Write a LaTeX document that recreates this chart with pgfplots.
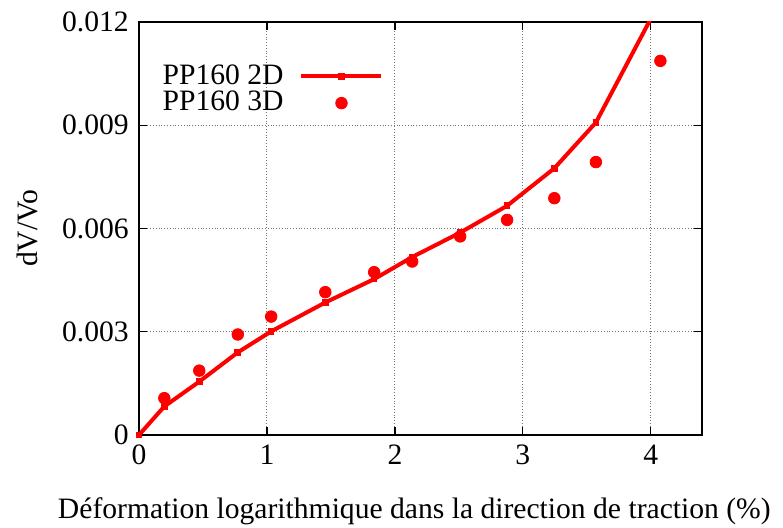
\documentclass[border=0pt]{standalone}
\usepackage{fontspec}
\setmainfont{Liberation Serif}
\usepackage{pgfplots}
\pgfplotsset{compat=1.18}

% PP160: volume change vs. log strain, 2D and 3D analyses
\pgfplotstableread{
x y
0     0
0.198 0.00083
0.471 0.00155
0.772 0.00240
1.033 0.00301
1.456 0.00385
1.838 0.00453
2.135 0.00517
2.510 0.00588
2.877 0.00666
3.246 0.00775
3.571 0.00908
4.100 0.01280
}\dataTwoD

\pgfplotstableread{
x y
0.198 0.00107
0.471 0.00187
0.772 0.00292
1.033 0.00344
1.456 0.00415
1.838 0.00473
2.135 0.00504
2.510 0.00577
2.877 0.00625
3.246 0.00688
3.571 0.00793
4.075 0.01087
}\dataThreeD

\begin{document}
\fontsize{14.8}{17.8}\selectfont%
\begin{tikzpicture}
\begin{axis}[
    scale only axis,
    width=281.5pt, height=206.5pt,
    xmin=0, xmax=4.4,
    ymin=0, ymax=0.012,
    xtick={0,1,2,3,4}, xticklabels={0,1,2,3,4},
    ytick={0,0.003,0.006,0.009,0.012},
    yticklabels={0,0.003,0.006,0.009,0.012},
    scaled y ticks=false,
    grid=major,
    grid style={densely dotted, black!55, line width=0.5pt},
    tick align=inside,
    major tick length=4pt,
    tick style={black, line width=0.6pt},
    axis line style={line width=0.8pt},
    xlabel={Déformation logarithmique dans la direction de traction (\%)},
    ylabel={dV/Vo},
    xlabel style={at={(axis description cs:0.489,-0.185)}, anchor=center},
    ylabel style={at={(axis description cs:-0.199,0.5)}, anchor=center},
    legend style={draw=none, fill=none, at={(axis description cs:0.027,0.913)},
        anchor=north west, row sep=-0.7pt, nodes={inner sep=1pt},
        /tikz/every odd column/.append style={column sep=7pt}},
    legend plot pos=right,
    legend cell align=left,
    legend image code/.code={
        \draw[mark repeat=2, mark phase=2, #1]
            plot coordinates {(0pt,0pt) (20pt,0pt) (40pt,0pt)};
    },
]
\addplot[red, line width=2pt, mark=square*, mark size=1.4pt,
    mark options={solid, line width=0.5pt}] table {\dataTwoD};
\addlegendentry{PP160 2D}
\addplot[red, only marks, mark=*, mark size=2.9pt] table {\dataThreeD};
\addlegendentry{PP160 3D}
\end{axis}
\pgfresetboundingbox
\path ([xshift=-69.5pt, yshift=-46.5pt]current axis.south west)
    rectangle ([xshift=40.5pt, yshift=11pt]current axis.north east);
\end{tikzpicture}
\end{document}
